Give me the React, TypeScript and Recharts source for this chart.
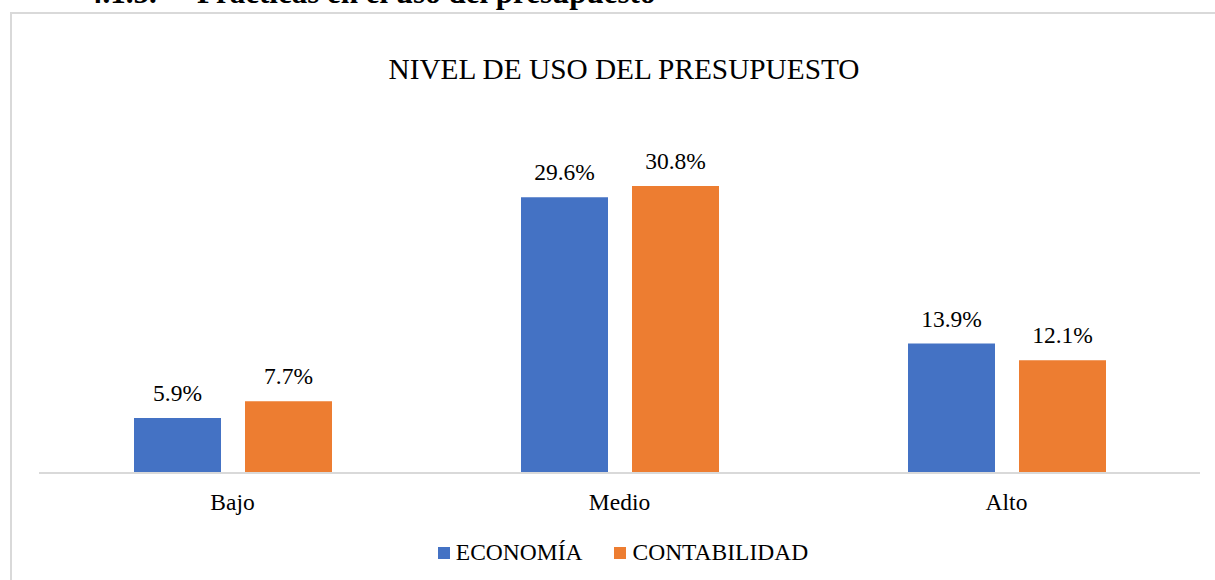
import React from 'react';
import { BarChart, Bar, XAxis, YAxis, LabelList } from 'recharts';

const categories = ['Bajo', 'Medio', 'Alto'];
const economia = [5.9, 29.6, 13.9];
const contabilidad = [7.7, 30.8, 12.1];
const seriesNames = ['ECONOMÍA', 'CONTABILIDAD'];
const seriesColors = ['#4472c4', '#ed7d31'];

const data = categories.map((name, i) => ({
  name,
  economia: economia[i],
  contabilidad: contabilidad[i],
}));

const font = 'Liberation Serif, Times New Roman, serif';

export default function App() {
  const keys = ['economia', 'contabilidad'];
  return (
    <div
      style={{
        position: 'absolute',
        left: 0,
        top: 0,
        width: 1215,
        height: 580,
        overflow: 'hidden',
        background: '#fff',
        fontFamily: font,
      }}
    >
      {/* frame of the chart box */}
      <div
        style={{
          position: 'absolute',
          left: 10,
          top: 12,
          width: 1300,
          height: 700,
          border: '2px solid #d9d9d9',
          boxSizing: 'border-box',
        }}
      />

      <svg width={1215} height={580} style={{ position: 'absolute', left: 0, top: 0 }}>
        {/* section heading, cut off at the top as in the page */}
        <text x={87} y={3} fontFamily={font} fontWeight="bold" fontSize={31} fill="#000">
          4.1.5.
        </text>
        <text x={197} y={3} fontFamily={font} fontWeight="bold" fontSize={31} fill="#000">
          Prácticas en el uso del presupuesto
        </text>
        <text x={624} y={79} textAnchor="middle" fontFamily={font} fontSize={29.3} fill="#000">
          NIVEL DE USO DEL PRESUPUESTO
        </text>
      </svg>

      <div style={{ position: 'absolute', left: 0, top: 0 }}>
        <BarChart
          width={1215}
          height={580}
          data={data}
          margin={{ top: 147, right: 15, bottom: 67, left: 39 }}
          barSize={87}
          barGap={24}
        >
          <XAxis
            dataKey="name"
            height={40}
            tickLine={false}
            tickMargin={14}
            axisLine={{ stroke: '#d9d9d9', strokeWidth: 2 }}
            tick={{ fontSize: 23.5, fill: '#000', fontFamily: font }}
          />
          <YAxis hide domain={[0, 35]} />
          {keys.map((k, i) => (
            <Bar key={k} dataKey={k} name={seriesNames[i]} fill={seriesColors[i]} isAnimationActive={false}>
              <LabelList
                dataKey={k}
                position="top"
                offset={17}
                formatter={(v: any) => `${Number(v).toFixed(1)}%`}
                style={{ fontSize: 23.5, fill: '#000', fontFamily: font }}
              />
            </Bar>
          ))}
        </BarChart>
      </div>

      <div
        style={{
          position: 'absolute',
          left: 0,
          top: 541,
          width: 1246,
          display: 'flex',
          justifyContent: 'center',
          gap: 32,
          fontSize: 23.5,
          lineHeight: 1,
          color: '#000',
        }}
      >
        {seriesNames.map((n, i) => (
          <span key={n} style={{ display: 'inline-flex', alignItems: 'center' }}>
            <span style={{ width: 12, height: 12, background: seriesColors[i], marginRight: 6, display: 'inline-block' }} />
            {n}
          </span>
        ))}
      </div>
    </div>
  );
}
